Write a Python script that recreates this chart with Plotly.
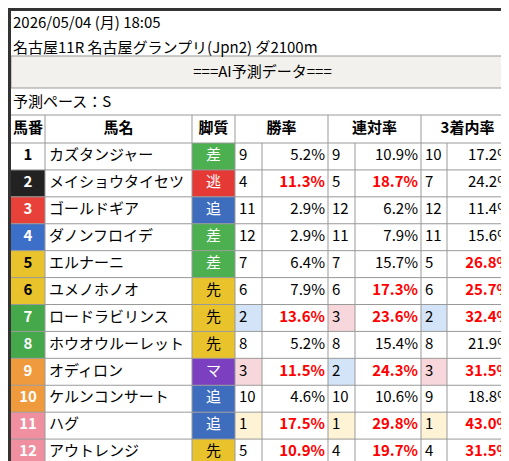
import plotly.graph_objects as go

W, H = 509, 461
nums = list(range(1, 13))
names = ["カズタンジャー", "メイショウタイセツ", "ゴールドギア", "ダノンフロイデ", "エルナーニ",
         "ユメノホノオ", "ロードラビリンス", "ホウオウルーレット", "オディロン", "ケルンコンサート",
         "ハグ", "アウトレンジ"]
styles = ["差", "逃", "追", "差", "差", "先", "先", "先", "マ", "追", "追", "先"]
win_rank = [9, 4, 11, 12, 7, 6, 2, 8, 3, 10, 1, 5]
win_pct = [5.2, 11.3, 2.9, 2.9, 6.4, 7.9, 13.6, 5.2, 11.5, 4.6, 17.5, 10.9]
ren_rank = [9, 5, 12, 11, 7, 6, 3, 8, 2, 10, 1, 4]
ren_pct = [10.9, 18.7, 6.2, 7.9, 15.7, 17.3, 23.6, 15.4, 24.3, 10.6, 29.8, 19.7]
plc_rank = [10, 7, 12, 11, 5, 6, 2, 8, 3, 9, 1, 4]
plc_pct = [17.2, 24.2, 11.4, 15.6, 26.8, 25.7, 32.4, 21.9, 31.5, 18.8, 43.0, 31.5]
headers = ["馬番", "馬名", "脚質", "勝率", "連対率", "3着内率"]

waku_bg = ["#ffffff", "#222222", "#e8413a", "#3c6fc8", "#e8c32c", "#e8c32c",
           "#45a84b", "#45a84b", "#ef9a3c", "#ef9a3c", "#ef8fa0", "#ef8fa0"]
waku_fg = ["#000", "#fff", "#fff", "#fff", "#000", "#000", "#fff", "#fff", "#fff", "#fff", "#fff", "#fff"]
style_bg = {"差": "#4caf50", "逃": "#e53935", "追": "#3f6dbd", "先": "#e8c32c", "マ": "#7b3fc0"}
style_fg = {"差": "#fff", "逃": "#fff", "追": "#fff", "先": "#000", "マ": "#fff"}
rank_bg = {1: "#fff3d6", 2: "#d3e3f8", 3: "#f7d7db"}

FONT = "Noto Sans CJK JP"
edges = [3, 37, 184, 227, 254, 320, 347, 413, 439, 506]
head_top, head_bot = 107, 135
rh = (458 - head_bot) / 12
ys = [head_bot + rh * (i + 0.5) for i in range(12)]

def pct(vals, thr):
    txt = [f"<b>{v:.1f}%</b>" if v >= thr else f"{v:.1f}%" for v in vals]
    col = ["#ff0000" if v >= thr else "#000" for v in vals]
    return txt, col

wt, wc = pct(win_pct, 10)
rt, rc = pct(ren_pct, 17)
pt, pc = pct(plc_pct, 25)

# column: (texts, colours, fills, align)
cols = [
    ([f"<b>{n}</b>" for n in nums], waku_fg, waku_bg, "c"),
    (names, ["#000"] * 12, None, "l"),
    (styles, [style_fg[s] for s in styles], [style_bg[s] for s in styles], "c"),
    ([str(r) for r in win_rank], ["#000"] * 12, [rank_bg.get(r) for r in win_rank], "l"),
    (wt, wc, None, "r"),
    ([str(r) for r in ren_rank], ["#000"] * 12, [rank_bg.get(r) for r in ren_rank], "l"),
    (rt, rc, None, "r"),
    ([str(r) for r in plc_rank], ["#000"] * 12, [rank_bg.get(r) for r in plc_rank], "l"),
    (pt, pc, None, "r"),
]

fig = go.Figure()
shapes = []
grid = "#999"
for c, (txt, fc, fills, al) in enumerate(cols):
    x0, x1 = edges[c], edges[c + 1]
    if fills:
        for i, f in enumerate(fills):
            if f:
                shapes.append(dict(type="rect", x0=x0, x1=x1, y0=head_bot + rh * i, y1=head_bot + rh * (i + 1),
                                   fillcolor=f, line_width=0, layer="below"))
    if al == "c":
        x, pos = (x0 + x1) / 2, "middle center"
    elif al == "l":
        x, pos = x0 + 4, "middle right"
    else:
        x, pos = x1 - 3, "middle left"
    fig.add_trace(go.Scatter(x=[x] * 12, y=ys, mode="text", text=txt, textposition=pos,
                             textfont=dict(family=FONT, size=15, color=fc),
                             hoverinfo="skip", showlegend=False))

# header
hx = [(edges[0] + edges[1]) / 2, (edges[1] + edges[2]) / 2, (edges[2] + edges[3]) / 2,
      (edges[3] + edges[5]) / 2, (edges[5] + edges[7]) / 2, (edges[7] + edges[9]) / 2]
fig.add_trace(go.Scatter(x=hx, y=[(head_top + head_bot) / 2] * 6, mode="text",
                         text=[f"<b>{h}</b>" for h in headers],
                         textfont=dict(family=FONT, size=15, color="#000"),
                         hoverinfo="skip", showlegend=False))

# grid lines
for i in range(13):
    y = head_bot + rh * i
    shapes.append(dict(type="line", x0=3, x1=506, y0=y, y1=y, line=dict(color=grid, width=1)))
for c, e in enumerate(edges[1:-1], start=1):
    y0 = head_bot if c in (4, 6, 8) else head_top
    shapes.append(dict(type="line", x0=e, x1=e, y0=y0, y1=458, line=dict(color=grid, width=1)))
shapes += [
    dict(type="rect", x0=3, x1=506, y0=48, y1=80, fillcolor="#f2f1ed", line=dict(color=grid, width=1), layer="below"),
    dict(type="line", x0=3, x1=506, y0=head_top, y1=head_top, line=dict(color=grid, width=1)),
    dict(type="rect", x0=1.5, x1=507.5, y0=1.5, y1=459.5, line=dict(color="#333", width=3)),
]
fig.add_trace(go.Scatter(
    x=[5, 5, (3 + 506) / 2, 5], y=[16, 41, 65, 95], mode="text",
    text=["2026/05/04 (月) 18:05", "名古屋11R 名古屋グランプリ(Jpn2) ダ2100m", "===AI予測データ===", "予測ペース：S"],
    textposition=["middle right", "middle right", "middle center", "middle right"],
    textfont=dict(family=FONT, size=15, color="#000"), hoverinfo="skip", showlegend=False))

fig.update_layout(width=W, height=H, margin=dict(l=0, r=0, t=0, b=0),
                  paper_bgcolor="#fff", plot_bgcolor="#fff", shapes=shapes)
fig.update_xaxes(range=[0, W], visible=False, fixedrange=True)
fig.update_yaxes(range=[H, 0], visible=False, fixedrange=True)
fig.write_html("out.html")
